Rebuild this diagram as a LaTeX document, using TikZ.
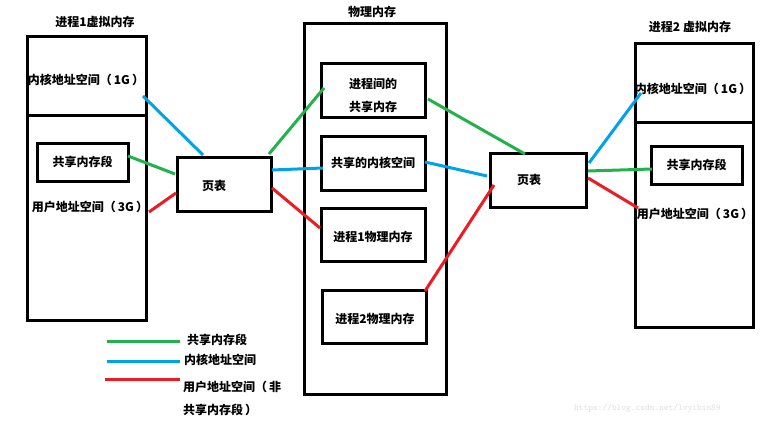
\documentclass[tikz,border=0pt]{standalone}
\usepackage{fontspec}
\newfontfamily\cjk{Noto Sans CJK SC}
\usetikzlibrary{positioning}
\definecolor{pgreen}{RGB}{34,177,76}
\definecolor{pblue}{RGB}{0,162,232}
\definecolor{pred}{RGB}{237,28,36}
\tikzset{
  box/.style={draw, line width=3pt, inner sep=0pt, rectangle},
  lbl/.style={font=\cjk\bfseries\fontsize{12}{14}\selectfont, inner sep=0pt, align=center},
  conn/.style={line width=3pt},
}
\begin{document}
\begin{tikzpicture}[x=1pt,y=-1pt]
\useasboundingbox[fill=white] (0,0) rectangle (760,423);
% left virtual memory
\node[lbl] (t1) at (95,22) {进程1虚拟内存};
\node[box, minimum width=119pt, minimum height=284pt] (v1) at (86.5,178) {};
\coordinate (v1dl) at (27,115);
\coordinate (v1dr) at (146,115);
\draw[line width=3pt] (v1dl) -- (v1dr);
\node[lbl] (k1) at (86,80) {内核地址空间（\,1G\,）};
\node[box, minimum width=91pt, minimum height=38pt] (s1) at (82.5,162) {};
\node[lbl] at (s1) {共享内存段};
\node[lbl] (u1) at (90,207) {用户地址空间（\,3G\,）};
% page table 1
\node[box, minimum width=94pt, minimum height=54pt] (p1) at (224,184) {};
\node[lbl] at (214,186) {页表};
% physical memory
\node[lbl] (t2) at (372,12) {物理内存};
\node[box, minimum width=142pt, minimum height=371pt] (pm) at (375,208.5) {};
\node[box, minimum width=104pt, minimum height=54pt] (b1) at (373,90) {};
\node[lbl, font=\cjk\bfseries\fontsize{12}{23}\selectfont] at (373,95) {进程间的\\共享内存};
\node[box, minimum width=104pt, minimum height=54pt] (b2) at (373,163) {};
\node[lbl] at (b2) {共享的内核空间};
\node[box, minimum width=104pt, minimum height=53pt] (b3) at (373,234.5) {};
\node[lbl] at (373,237) {进程1物理内存};
\node[box, minimum width=104pt, minimum height=53pt] (b4) at (374,316.5) {};
\node[lbl] at (375,319) {进程2物理内存};
% page table 2
\node[box, minimum width=96pt, minimum height=54pt] (p2) at (538,180) {};
\node[lbl] at (529,180) {页表};
% right virtual memory
\node[lbl] (t3) at (690,27) {进程2 虚拟内存};
\node[box, minimum width=118pt, minimum height=284pt] (v2) at (694,185) {};
\coordinate (v2dl) at (635,122);
\coordinate (v2dr) at (753,122);
\draw[line width=3pt] (v2dl) -- (v2dr);
\node[lbl] (k2) at (693,89) {内核地址空间（\,1G\,）};
\node[box, minimum width=91pt, minimum height=38pt] (s2) at (696.5,165) {};
\node[lbl] at (s2) {共享内存段};
\node[lbl] (u2) at (695,214) {用户地址空间（\,3G\,）};
% connector endpoints
\coordinate (a1) at (143,96);  \coordinate (a2) at (203,155);
\coordinate (a3) at (128,156); \coordinate (a4) at (175,174);
\coordinate (a5) at (149,212); \coordinate (a6) at (176,193);
\coordinate (c1) at (269,154); \coordinate (c2) at (324,88);
\coordinate (c3) at (272,170); \coordinate (c4) at (323,168);
\coordinate (c5) at (272,188); \coordinate (c6) at (320,228);
\coordinate (d1) at (428,99);  \coordinate (d2) at (525,154);
\coordinate (d3) at (425,162); \coordinate (d4) at (487,176);
\coordinate (d5) at (425,291); \coordinate (d6) at (494,185);
\coordinate (e1) at (589,163); \coordinate (e2) at (641,93);
\coordinate (e3) at (588,171); \coordinate (e4) at (652,169);
\coordinate (e5) at (588,178); \coordinate (e6) at (638,208);
\draw[conn, pblue] (a1) -- (a2);
\draw[conn, pgreen] (a3) -- (a4);
\draw[conn, pred] (a5) -- (a6);
\draw[conn, pgreen] (c1) -- (c2);
\draw[conn, pblue] (c3) -- (c4);
\draw[conn, pred] (c5) -- (c6);
\draw[conn, pgreen] (d1) -- (d2);
\draw[conn, pblue] (d3) -- (d4);
\draw[conn, pred] (d5) -- (d6);
\draw[conn, pblue] (e1) -- (e2);
\draw[conn, pgreen] (e3) -- (e4);
\draw[conn, pred] (e5) -- (e6);
% legend
\coordinate (g1) at (107,341); \coordinate (g2) at (180,341);
\coordinate (h1) at (107,361); \coordinate (h2) at (180,361);
\coordinate (r1) at (105,379); \coordinate (r2) at (180,379);
\draw[conn, pgreen] (g1) -- (g2);
\draw[conn, pblue] (h1) -- (h2);
\draw[conn, pred] (r1) -- (r2);
\node[lbl, anchor=west] (lg) at (187,340) {共享内存段};
\node[lbl, anchor=west] (lb) at (184,360) {内核地址空间};
\node[lbl, anchor=west, align=left, font=\cjk\bfseries\fontsize{12}{23}\selectfont] (lr) at (183,398) {用户地址空间（\,非\\共享内存段\,）};
% watermark
\node[anchor=west, inner sep=0pt, text=black!12, font=\ttfamily\fontsize{9}{10}\selectfont] (wm) at (574,408) {https://blog.csdn.net/lvyibin89};
\end{tikzpicture}
\end{document}
